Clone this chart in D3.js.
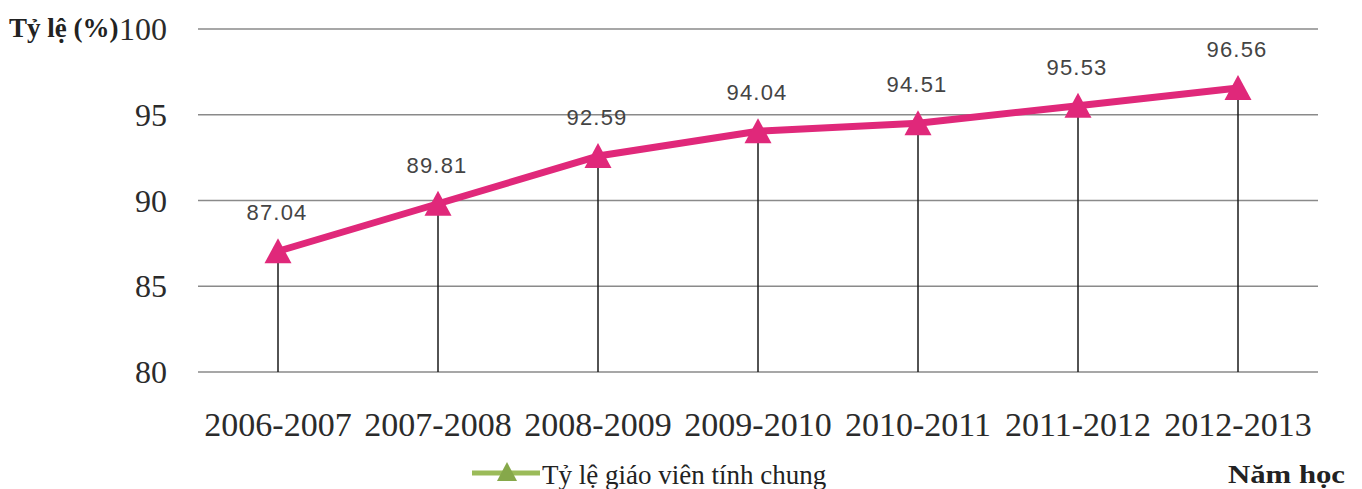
<!DOCTYPE html>
<html>
<head>
<meta charset="utf-8">
<script src="https://cdn.jsdelivr.net/npm/d3@7"></script>
<style>
  html, body { margin: 0; padding: 0; background: #fff; }
  svg { display: block; }
</style>
</head>
<body>
<svg id="chart" width="1362" height="489"></svg>
<script>
// School years and teacher qualification rate (%)
const years = ["2006-2007", "2007-2008", "2008-2009", "2009-2010", "2010-2011", "2011-2012", "2012-2013"];
const rates = [87.04, 89.81, 92.59, 94.04, 94.51, 95.53, 96.56];
const yTicks = [80, 85, 90, 95, 100];
const yTitle = "Tỷ lệ (%)";
const xTitle = "Năm học";
const seriesName = "Tỷ lệ giáo viên tính chung";

const svg = d3.select("#chart");
const plotLeft = 198, plotRight = 1318, plotTop = 29, plotBottom = 372;

const x = d3.scaleBand().domain(years).range([plotLeft, plotRight]);
const y = d3.scaleLinear().domain([80, 100]).range([plotBottom, plotTop]);
const cx = d => x(d) + x.bandwidth() / 2;

const serif = "'Liberation Serif', 'Times New Roman', serif";
const sans = "'Liberation Sans', Arial, sans-serif";
const lineColor = "#e0287a";

// Horizontal gridlines
svg.append("g").selectAll("line").data(yTicks).join("line")
  .attr("x1", plotLeft).attr("x2", plotRight)
  .attr("y1", d => y(d)).attr("y2", d => y(d))
  .attr("stroke", "#8a8a8a").attr("stroke-width", 1.5);

// Y axis tick labels
svg.append("g").selectAll("text").data(yTicks).join("text")
  .attr("x", 167).attr("y", d => y(d) + 11)
  .attr("text-anchor", "end")
  .attr("font-family", serif).attr("font-size", 32).attr("fill", "#2b2b2b")
  .text(d => d);

// Y axis title
svg.append("text")
  .attr("x", 9).attr("y", 37)
  .attr("font-family", serif).attr("font-size", 27).attr("font-weight", "bold")
  .attr("fill", "#222")
  .text(yTitle);

// X axis category labels
svg.append("g").selectAll("text").data(years).join("text")
  .attr("x", d => cx(d)).attr("y", 436)
  .attr("text-anchor", "middle")
  .attr("font-family", serif).attr("font-size", 34).attr("fill", "#2b2b2b")
  .text(d => d);

// Vertical drop lines from each point to the baseline
const pts = years.map((d, i) => ({ year: d, value: rates[i] }));
svg.append("g").selectAll("line").data(pts).join("line")
  .attr("x1", d => cx(d.year)).attr("x2", d => cx(d.year))
  .attr("y1", d => y(d.value)).attr("y2", y(80))
  .attr("stroke", "#1a1a1a").attr("stroke-width", 1.5);

// Series line
svg.append("path").datum(pts)
  .attr("fill", "none").attr("stroke", lineColor)
  .attr("stroke-width", 7).attr("stroke-linejoin", "round")
  .attr("d", d3.line().x(d => cx(d.year)).y(d => y(d.value)));

// Triangle markers
const tri = (px, py, h, w) => `M${px},${py - h * 0.52}L${px + w / 2},${py + h * 0.48}L${px - w / 2},${py + h * 0.48}Z`;
svg.append("g").selectAll("path").data(pts).join("path")
  .attr("d", d => tri(cx(d.year), y(d.value), 25, 27))
  .attr("fill", lineColor);

// Value labels
svg.append("g").selectAll("text").data(pts).join("text")
  .attr("x", d => cx(d.year) - 1).attr("y", d => y(d.value) - 31)
  .attr("text-anchor", "middle")
  .attr("font-family", sans).attr("font-size", 22).attr("letter-spacing", 1.2)
  .attr("fill", "#444")
  .text(d => d.value.toFixed(2));

// Legend
const lg = svg.append("g");
lg.append("line").attr("x1", 472).attr("x2", 540).attr("y1", 473).attr("y2", 473)
  .attr("stroke", "#9bbb59").attr("stroke-width", 5);
lg.append("path").attr("d", tri(507, 472, 19, 20)).attr("fill", "#86a84a");
lg.append("text").attr("x", 542).attr("y", 484)
  .attr("font-family", serif).attr("font-size", 27).attr("fill", "#222")
  .text(seriesName);

// X axis title
svg.append("text")
  .attr("x", 1228).attr("y", 483)
  .attr("font-family", serif).attr("font-size", 26).attr("font-weight", "bold")
  .attr("fill", "#222")
  .attr("textLength", 117).attr("lengthAdjust", "spacingAndGlyphs")
  .text(xTitle);
</script>
</body>
</html>
